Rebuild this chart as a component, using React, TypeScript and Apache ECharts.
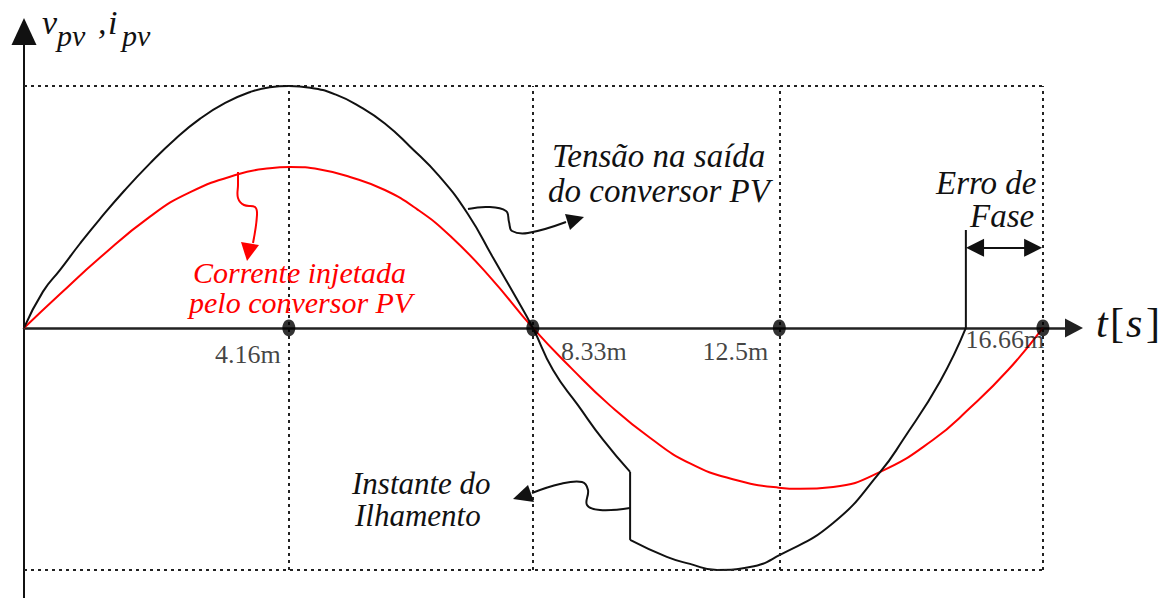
import React, { useEffect, useRef } from "react";
import * as echarts from "echarts";

// time in ms (horizontal position), value normalised to the voltage peak
const voltageBefore: [number, number][] = [
  [0, 0], [0.31, 0.15], [0.59, 0.24], [0.92, 0.35], [1.24, 0.45], [1.65, 0.57],
  [2.06, 0.68], [2.47, 0.78], [2.88, 0.865], [3.29, 0.93], [3.7, 0.975], [4.02, 0.995],
  [4.33, 1.0], [4.68, 0.993], [5.09, 0.965], [5.49, 0.915], [5.9, 0.845], [6.31, 0.75],
  [6.8, 0.624], [7.26, 0.47], [7.67, 0.29], [8.0, 0.145], [8.32, 0], [8.65, -0.174],
  [9.06, -0.32], [9.47, -0.463], [9.91, -0.595],
];
const voltageJump: [number, number][] = [[9.91, -0.595], [9.91, -0.876]];
const voltageAfter: [number, number][] = [
  [9.91, -0.876], [10.51, -0.946], [10.89, -0.975], [11.33, -1.0], [11.87, -0.988],
  [12.36, -0.938], [13.23, -0.806], [14.0, -0.595], [14.37, -0.463], [14.98, -0.22], [15.4, 0],
];
const current: [number, number][] = [
  [0, 0], [0.59, 0.14], [1.24, 0.29], [2.06, 0.46], [2.71, 0.56], [3.5, 0.635],
  [4.02, 0.66], [4.35, 0.665], [4.84, 0.655], [5.33, 0.624], [5.9, 0.57], [6.43, 0.49],
  [6.97, 0.38], [7.62, 0.21], [8.32, 0], [8.96, -0.169], [9.58, -0.32], [10.24, -0.455],
  [10.89, -0.56], [11.59, -0.625], [12.34, -0.66], [12.69, -0.665], [13.23, -0.657],
  [14.0, -0.595], [14.86, -0.463], [15.47, -0.33], [16.09, -0.174], [16.66, 0],
];
const markerTimes = [4.33, 8.32, 12.35, 16.66];
const markerLabels = ["4.16m", "8.33m", "12.5m", "16.66m"];
const phaseMarker: [number, number][] = [[15.4, 0], [15.4, 0.405]];
const phaseErrorFrom = 15.55;
const phaseErrorTo = 16.5;
const phaseErrorLevel = 0.331;
const frameTop = 1;
const frameBottom = -1;
const frameEnd = 16.66;

const annotationTexts = [
  "v", "pv", ",", "i", "pv",
  "t", "[", "s", "]",
  "Tensão na saída", "do conversor PV",
  "Corrente injetada", "pelo conversor PV",
  "Erro de", "Fase",
  "Instante do", "Ilhamento",
];

// layout of the annotation texts: [pixel x, pixel y (middle), font size, italic, align, colour]
const annotationLayout: [number, number, number, boolean, string, string][] = [
  [42, 25, 34, true, "left", "#111"],
  [57, 37, 30, true, "left", "#111"],
  [98, 25, 34, true, "left", "#111"],
  [108, 25, 34, true, "left", "#111"],
  [122, 37, 30, true, "left", "#111"],
  [1096, 326, 42, true, "left", "#111"],
  [1110, 326, 42, false, "left", "#111"],
  [1126, 326, 42, true, "left", "#111"],
  [1146, 326, 42, false, "left", "#111"],
  [659, 158, 33, true, "center", "#111"],
  [659, 193, 33, true, "center", "#111"],
  [300, 274, 30, true, "center", "#ff0000"],
  [301, 304, 30, true, "center", "#ff0000"],
  [986, 185, 33, true, "center", "#111"],
  [1002, 218, 33, true, "center", "#111"],
  [421, 486, 31, true, "center", "#111"],
  [418, 518, 31, true, "center", "#111"],
];

const labelOffsets = [[-41, 27], [61, 24], [-44, 24], [-38, 12]];
const SERIF = "Liberation Serif";

function measure(text: string, size: number, italic: boolean) {
  const ctx = document.createElement("canvas").getContext("2d");
  if (!ctx) return text.length * size * 0.45;
  ctx.font = `${italic ? "italic " : ""}${size}px ${SERIF}`;
  return ctx.measureText(text).width;
}

function wavy(points: number[][], head: number[][], color: string) {
  return [
    {
      type: "polyline",
      z: 10,
      shape: { points, smooth: 0.4 },
      style: { stroke: color, lineWidth: 2, fill: null },
    },
    { type: "polygon", z: 10, shape: { points: head }, style: { fill: color } },
  ];
}

export default function App() {
  const ref = useRef<HTMLDivElement>(null);
  useEffect(() => {
    document.body.style.margin = "0";
    const chart = echarts.init(ref.current!, null, { renderer: "svg" });
    const dotted = { type: [3, 4], color: "#222", width: 2 };
    const verticals = markerTimes.map((t) => [
      { coord: [t, frameBottom] },
      { coord: [t, frameTop] },
    ]);
    const texts = annotationTexts.map((text, i) => {
      const [px, py, size, italic, align, color] = annotationLayout[i];
      const w = align === "center" ? measure(text, size, italic) : 0;
      const style: any = { text, fill: color, fontFamily: SERIF, fontSize: size };
      if (italic) style.fontStyle = "italic";
      return {
        type: "text",
        x: Math.round(px - w / 2),
        y: Math.round(py - size * 0.575),
        z: 10,
        style,
      };
    });
    const option: any = {
      animation: false,
      backgroundColor: "#fff",
      grid: { left: 24, right: 94, top: 31.5, bottom: 0, containLabel: false, outerBoundsMode: "none" },
      xAxis: {
        type: "value",
        min: 0,
        max: 17.168,
        axisLine: {
          show: true,
          onZero: true,
          symbol: ["none", "triangle"],
          symbolSize: [19, 18],
          lineStyle: { color: "#222", width: 2.5 },
        },
        axisTick: { show: false },
        axisLabel: { show: false },
        splitLine: { show: false },
      },
      yAxis: {
        type: "value",
        min: -1.116,
        max: 1.225,
        axisLine: {
          show: true,
          symbol: ["none", "triangle"],
          symbolSize: [25, 27],
          lineStyle: { color: "#111", width: 2 },
        },
        axisTick: { show: false },
        axisLabel: { show: false },
        splitLine: { show: false },
      },
      series: [
        {
          name: "frame",
          type: "line",
          z: 1,
          data: [[0, frameTop], [frameEnd, frameTop]],
          symbol: "none",
          lineStyle: dotted,
          silent: true,
          markLine: {
            silent: true,
            symbol: ["none", "none"],
            label: { show: false },
            lineStyle: dotted,
            data: [[{ coord: [0, frameBottom] }, { coord: [frameEnd, frameBottom] }], ...verticals],
          },
        },
        {
          name: "current",
          type: "line",
          z: 3,
          data: current,
          smooth: true,
          symbol: "none",
          lineStyle: { color: "#ff0000", width: 2 },
        },
        {
          name: "voltageBefore",
          type: "line",
          z: 3,
          data: voltageBefore,
          smooth: true,
          symbol: "none",
          lineStyle: { color: "#111", width: 2 },
        },
        {
          name: "voltageJump",
          type: "line",
          z: 3,
          data: voltageJump,
          symbol: "none",
          lineStyle: { color: "#111", width: 2 },
        },
        {
          name: "voltageAfter",
          type: "line",
          z: 3,
          data: voltageAfter,
          smooth: true,
          symbol: "none",
          lineStyle: { color: "#111", width: 2 },
        },
        {
          name: "phaseMarker",
          type: "line",
          z: 3,
          data: phaseMarker,
          symbol: "none",
          lineStyle: { color: "#111", width: 2 },
          markLine: {
            silent: true,
            symbol: ["triangle", "triangle"],
            symbolSize: 18,
            label: { show: false },
            lineStyle: { color: "#111", width: 2, type: "solid" },
            data: [[{ coord: [phaseErrorFrom, phaseErrorLevel] }, { coord: [phaseErrorTo, phaseErrorLevel] }]],
          },
        },
        {
          name: "markers",
          type: "scatter",
          z: 5,
          symbol: "circle",
          symbolSize: [13, 17],
          itemStyle: { color: "#000" },
          data: markerTimes.map((t, i) => ({
            name: markerLabels[i],
            value: [t, 0],
            label: { offset: labelOffsets[i] },
          })),
          label: {
            show: true,
            position: "inside",
            formatter: "{b}",
            fontFamily: SERIF,
            fontSize: 26,
            color: "#111",
          },
        },
      ],
      graphic: [
        ...texts,
        ...wavy(
          [[468, 209], [488, 207], [506, 211], [509, 222], [512, 231], [528, 233], [566, 222]],
          [[584, 217], [570, 230], [565, 214]],
          "#111"
        ),
        ...wavy(
          [[238, 172], [238, 185], [238, 198], [244, 205], [255, 207], [257, 215], [253, 243]],
          [[247, 261], [241, 242], [259, 245]],
          "#ff0000"
        ),
        ...wavy(
          [[630, 508], [600, 510], [587, 505], [588, 490], [582, 482], [560, 484], [532, 493]],
          [[513, 499], [528, 485], [534, 502]],
          "#111"
        ),
      ],
    };
    chart.setOption(option);
    return () => chart.dispose();
  }, []);
  return <div ref={ref} style={{ width: 1168, height: 598 }} />;
}
